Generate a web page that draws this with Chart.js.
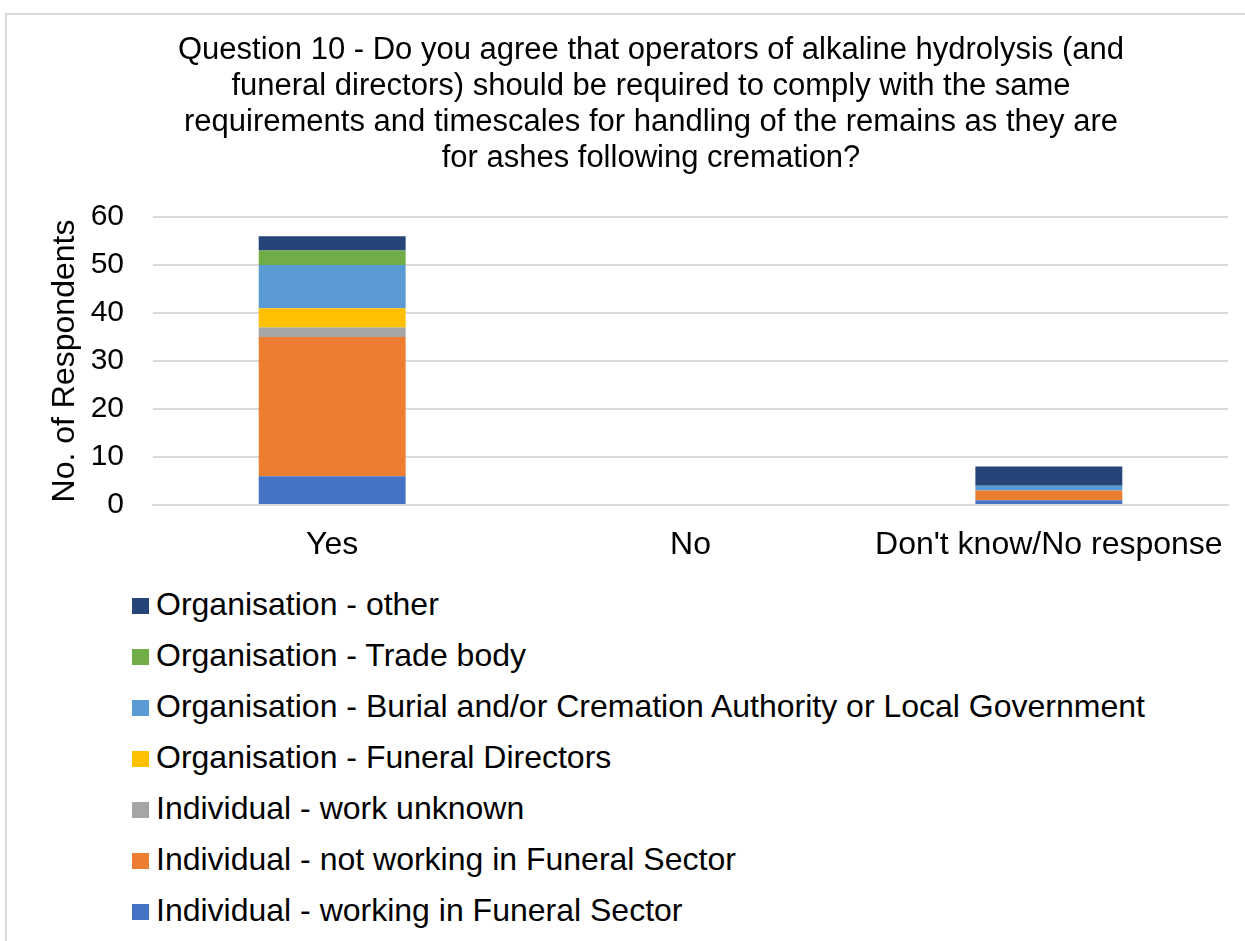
<!DOCTYPE html>
<html>
<head>
<meta charset="utf-8">
<script src="https://cdn.jsdelivr.net/npm/chart.js@4/dist/chart.umd.min.js"></script>
<style>
  html, body { margin: 0; background: #fff; overflow: hidden; font-family: Arial, "Liberation Sans", sans-serif; }
  #frame {
    position: absolute; left: 5px; top: 13px; width: 1240px; height: 928px; overflow: hidden;
    border-left: 2px solid #d9d9d9; border-top: 2px solid #d9d9d9; box-sizing: border-box;
  }
  #chart-wrap { position: absolute; left: 0; top: 0; width: 1290px; height: 550px; }
  #legend { position: absolute; left: 125px; top: 564px; margin: 0; padding: 0; list-style: none; }
  #legend li { height: 51px; line-height: 51px; font-size: 32px; color: #000; white-space: nowrap; }
  #legend span.box { display: inline-block; width: 17px; height: 16px; margin-right: 7px; vertical-align: 1px; }
</style>
</head>
<body>
<div id="frame">
  <div id="chart-wrap"><canvas id="q10-chart" width="1290" height="550"></canvas></div>
  <ul id="legend"></ul>
</div>
<script>
const categories = ["Yes", "No", "Don't know/No response"];

const indivWorking = [6, 0, 1];
const indivNotWorking = [29, 0, 2];
const indivUnknown = [2, 0, 0];
const orgFuneralDirectors = [4, 0, 0];
const orgBurialAuthority = [9, 0, 1];
const orgTradeBody = [3, 0, 0];
const orgOther = [3, 0, 4];

const yTicks = [0, 10, 20, 30, 40, 50, 60];

const titleLines = [
  "Question 10 - Do you agree that operators of alkaline hydrolysis (and",
  "funeral directors) should be required to comply with the same",
  "requirements and timescales for handling of the remains as they are",
  "for ashes following cremation?"
];

function series(label, data, color) {
  return { label: label, data: data, backgroundColor: color, borderWidth: 0,
    categoryPercentage: 1, barPercentage: 0.41 };
}

const datasets = [
  series("Individual - working in Funeral Sector", indivWorking, "#4472C4"),
  series("Individual - not working in Funeral Sector", indivNotWorking, "#ED7D31"),
  series("Individual - work unknown", indivUnknown, "#A5A5A5"),
  series("Organisation - Funeral Directors", orgFuneralDirectors, "#FFC000"),
  series("Organisation - Burial and/or Cremation Authority or Local Government", orgBurialAuthority, "#5B9BD5"),
  series("Organisation - Trade body", orgTradeBody, "#70AD47"),
  series("Organisation - other", orgOther, "#264478"),
];

const font = "Arial, 'Liberation Sans', sans-serif";

const chart = new Chart(document.getElementById("q10-chart"), {
  type: "bar",
  data: { labels: categories, datasets: datasets },
  options: {
    responsive: false,
    animation: false,
    layout: { padding: { top: 7, right: 41, left: 39, bottom: 0 } },
    plugins: {
      legend: { display: false },
      tooltip: { enabled: false },
      title: {
        display: true,
        text: titleLines,
        color: "#000",
        font: { family: font, size: 31, weight: "normal", lineHeight: 36 / 31 },
        padding: { top: 10, bottom: 41 },
      },
    },
    scales: {
      x: {
        stacked: true,
        grid: { display: false, drawTicks: false },
        border: { color: "#d9d9d9", width: 2 },
        ticks: { color: "#000", font: { family: font, size: 32 }, padding: 21,
          autoSkip: false, maxRotation: 0, minRotation: 0 },
        afterFit: (scale) => { scale.height = 60; },
      },
      y: {
        stacked: true,
        min: 0,
        max: 60,
        afterBuildTicks: (axis) => { axis.ticks = yTicks.map((v) => ({ value: v })); },
        grid: { color: "#d9d9d9", lineWidth: 2, drawTicks: false },
        border: { display: false },
        ticks: { color: "#000", font: { family: font, size: 30 }, padding: 29, autoSkip: false },
        title: {
          display: true,
          text: "No. of Respondents",
          color: "#000",
          font: { family: font, size: 32 },
          padding: { top: 0, bottom: 6 },
        },
        afterFit: (scale) => { scale.width = 107; },
      },
      // empty right-hand gutter so the plot ends short of the title's span
      gutter: {
        position: "right",
        grid: { display: false, drawTicks: false },
        border: { display: false },
        ticks: { display: false },
        afterFit: (scale) => { scale.width = 28; },
      },
    },
  },
});

// legend listed top to bottom in reverse stack order
const legendEl = document.getElementById("legend");
chart.data.datasets.slice().reverse().forEach((ds) => {
  const li = document.createElement("li");
  const box = document.createElement("span");
  box.className = "box";
  box.style.background = ds.backgroundColor;
  li.appendChild(box);
  li.appendChild(document.createTextNode(ds.label));
  legendEl.appendChild(li);
});
</script>
</body>
</html>
